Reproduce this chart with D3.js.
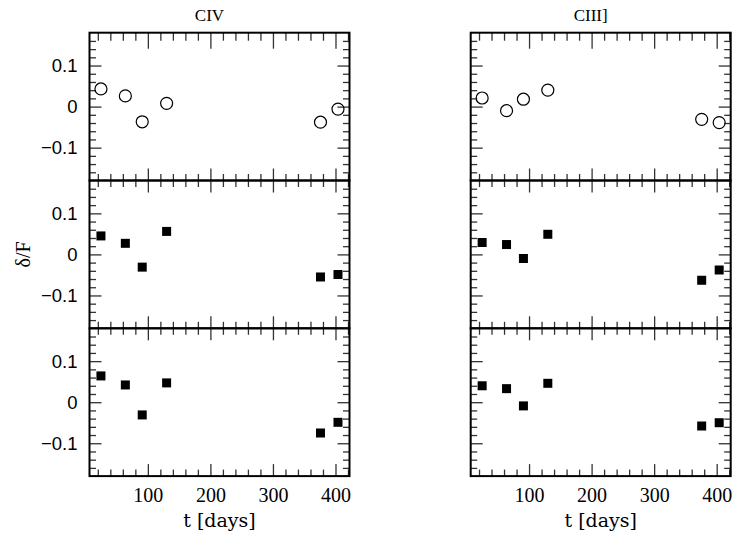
<!DOCTYPE html>
<html>
<head>
<meta charset="utf-8">
<script src="https://cdn.jsdelivr.net/npm/d3@7"></script>
<style>
  body { margin: 0; background: #fff; }
  svg { display: block; }
</style>
</head>
<body>
<div id="chart"></div>
<script>
// values
const days = [25, 64, 91, 130, 376, 404]
const civTop = [0.043, 0.026, -0.037, 0.008, -0.038, -0.006]
const civMid = [0.045, 0.027, -0.031, 0.056, -0.055, -0.049]
const civBot = [0.064, 0.042, -0.031, 0.047, -0.075, -0.049]
const ciiiTop = [0.021, -0.010, 0.018, 0.040, -0.031, -0.039]
const ciiiMid = [0.029, 0.024, -0.010, 0.049, -0.063, -0.038]
const ciiiBot = [0.040, 0.033, -0.009, 0.046, -0.058, -0.050]
const columnTitles = ['CIV', 'CIII]']
const xTickValues = [100, 200, 300, 400]
const yTickValues = [0.1, 0, -0.1]
const yTickLabels = ['0.1', '0', '\u22120.1']
const xDomain = [6.7, 422.4]
const yDomain = [-0.18, 0.18]

const width = 734, height = 537
const colLeft = [89.5, 470.7]
const panelW = 260
const rowTop = 32.7
const panelH = 147.8
const serif = '"Liberation Serif", "DejaVu Serif", serif'
const wideSerif = '"DejaVu Serif", "Liberation Serif", serif'
const sans = '"Liberation Sans", Arial, sans-serif'

const svg = d3.select('#chart').append('svg')
    .attr('width', width)
    .attr('height', height)

const x = d3.scaleLinear().domain(xDomain).range([0, panelW])
const y = d3.scaleLinear().domain(yDomain).range([panelH, 0])

const xMinor = d3.range(20, 421, 20).filter(d => d % 100 !== 0)
const xMajor = d3.range(100, 401, 100)
const yAll = d3.range(-8, 9).map(d => +(d * 0.02).toFixed(2))
const yMajor = yAll.filter(d => Math.abs(Math.round(d * 10) - d * 10) < 1e-6)
const yMinor = yAll.filter(d => !yMajor.includes(d))

const panels = [
    { col: 0, row: 0, values: civTop, marker: 'circle' },
    { col: 0, row: 1, values: civMid, marker: 'square' },
    { col: 0, row: 2, values: civBot, marker: 'square' },
    { col: 1, row: 0, values: ciiiTop, marker: 'circle' },
    { col: 1, row: 1, values: ciiiMid, marker: 'square' },
    { col: 1, row: 2, values: ciiiBot, marker: 'square' }
]

function tickAxis(g, axis, values, size) {
    g.call(axis.tickValues(values).tickSize(-size).tickFormat(''))
    g.select('.domain').remove()
    g.selectAll('.tick line').attr('stroke', '#333').attr('stroke-width', 1.3)
}

panels.forEach(p => {
    const g = svg.append('g')
        .attr('transform', 'translate(' + [colLeft[p.col], rowTop + p.row * panelH] + ')')

    // inward ticks on all four sides
    const topMaj = p.row === 0 ? 16 : 12
    const topMin = p.row === 0 ? 8 : 6.5
    tickAxis(g.append('g').attr('transform', 'translate(0,' + panelH + ')'), d3.axisBottom(x), xMajor, 12)
    tickAxis(g.append('g').attr('transform', 'translate(0,' + panelH + ')'), d3.axisBottom(x), xMinor, 6.5)
    tickAxis(g.append('g'), d3.axisTop(x), xMajor, topMaj)
    tickAxis(g.append('g'), d3.axisTop(x), xMinor, topMin)
    tickAxis(g.append('g'), d3.axisLeft(y), yMajor, 12)
    tickAxis(g.append('g'), d3.axisLeft(y), yMinor, 6.5)
    tickAxis(g.append('g').attr('transform', 'translate(' + panelW + ',0)'), d3.axisRight(y), yMajor, 12)
    tickAxis(g.append('g').attr('transform', 'translate(' + panelW + ',0)'), d3.axisRight(y), yMinor, 6.5)

    g.append('rect')
        .attr('width', panelW)
        .attr('height', panelH)
        .attr('fill', 'none')
        .attr('stroke', '#000')
        .attr('stroke-width', 2)

    // y tick labels, left column only
    if (p.col === 0) {
        const yl = g.append('g')
            .call(d3.axisLeft(y).tickValues(yTickValues).tickSize(0).tickPadding(12)
                .tickFormat((d, i) => yTickLabels[i]))
        yl.select('.domain').remove()
        yl.selectAll('text')
            .attr('font-family', sans)
            .attr('font-size', 18.5)
            .attr('fill', '#000')
    }

    // x tick labels on bottom row
    if (p.row === 2) {
        const xl = g.append('g')
            .attr('transform', 'translate(0,' + panelH + ')')
            .call(d3.axisBottom(x).tickValues(xTickValues).tickSize(0).tickPadding(12))
        xl.select('.domain').remove()
        xl.selectAll('text')
            .attr('font-family', serif)
            .attr('font-size', 20)
            .attr('fill', '#000')
    }

    const pts = days.map((d, i) => ({ t: d, v: p.values[i] }))
    if (p.marker === 'circle') {
        g.selectAll('circle.pt').data(pts).enter().append('circle')
            .attr('class', 'pt')
            .attr('cx', d => x(d.t))
            .attr('cy', d => y(d.v))
            .attr('r', 6)
            .attr('fill', 'none')
            .attr('stroke', '#000')
            .attr('stroke-width', 1.2)
    } else {
        const s = 9
        g.selectAll('rect.pt').data(pts).enter().append('rect')
            .attr('class', 'pt')
            .attr('x', d => x(d.t) - s / 2)
            .attr('y', d => y(d.v) - s / 2)
            .attr('width', s)
            .attr('height', s)
            .attr('fill', '#000')
    }
})

// column titles
svg.selectAll('text.title').data(columnTitles).enter().append('text')
    .attr('class', 'title')
    .attr('x', (d, i) => colLeft[i] + panelW / 2 - 10)
    .attr('y', 21)
    .attr('text-anchor', 'middle')
    .attr('font-family', serif)
    .attr('font-size', 17)
    .text(d => d)

// axis titles
colLeft.forEach(c => {
    svg.append('text')
        .attr('x', c + panelW / 2)
        .attr('y', 527)
        .attr('text-anchor', 'middle')
        .attr('font-family', wideSerif)
        .attr('font-size', 19)
        .attr('font-weight', 300)
        .text('t [days]')
})

svg.append('text')
    .attr('transform', 'translate(30,' + (rowTop + panelH * 1.5) + ') rotate(-90)')
    .attr('text-anchor', 'middle')
    .attr('font-family', serif)
    .attr('font-size', 20)
    .text('\u03b4/F')
</script>
</body>
</html>
